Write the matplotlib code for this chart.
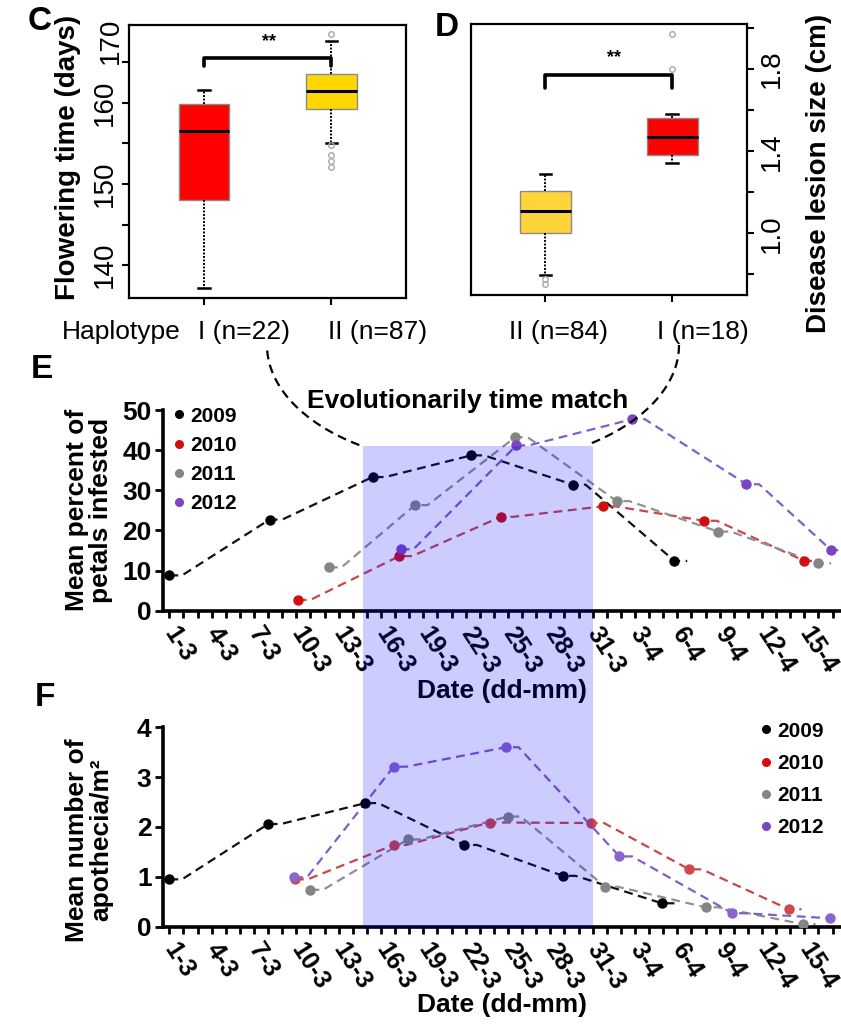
import numpy as np
import matplotlib
matplotlib.use('Agg')
import matplotlib.pyplot as plt
from matplotlib.lines import Line2D
from matplotlib.patches import Rectangle

plt.rcParams['font.family'] = ['Liberation Sans', 'DejaVu Sans']
NARROW = ['Liberation Sans Narrow', 'Liberation Sans', 'DejaVu Sans']

# ---- panel C: flowering time by haplotype
c_labels = ['I (n=22)', 'II (n=87)']
c_med = [156.5, 161.5]
c_q1 = [148.0, 159.2]
c_q3 = [159.9, 163.5]
c_whislo = [137.2, 155.1]
c_whishi = [161.6, 167.6]
c_fliers = [[], [168.5, 154.8, 153.6, 152.8, 152.1]]
c_colors = ['#ff0000', '#ffd700']

# ---- panel D: disease lesion size by haplotype
d_labels = ['II (n=84)', 'I (n=18)']
d_med = [1.11, 1.472]
d_q1 = [1.0, 1.382]
d_q3 = [1.206, 1.561]
d_whislo = [0.797, 1.341]
d_whishi = [1.29, 1.58]
d_fliers = [[0.756, 0.776], [1.802, 1.972]]
d_colors = ['#ffd43b', '#ff0000']

# ---- panels E/F: days counted from 1 March (31 = 31-3, 34 = 3-4 ...)
years = ['2009', '2010', '2011', '2012']
tick_days = [1, 4, 7, 10, 13, 16, 19, 22, 25, 28, 31, 34, 37, 40, 43, 46]
tick_labels = ['1-3', '4-3', '7-3', '10-3', '13-3', '16-3', '19-3', '22-3',
               '25-3', '28-3', '31-3', '3-4', '6-4', '9-4', '12-4', '15-4']

e_day_2009 = [1.0, 8.1, 15.4, 22.4, 29.6, 36.8]
e_val_2009 = [8.8, 22.7, 33.3, 38.7, 31.4, 12.4]
e_day_2010 = [10.1, 17.3, 24.5, 31.7, 38.9, 46.0]
e_val_2010 = [2.7, 13.6, 23.4, 26.0, 22.4, 12.4]
e_day_2011 = [12.3, 18.4, 25.5, 32.7, 39.9, 47.0]
e_val_2011 = [10.8, 26.3, 43.2, 27.3, 19.7, 11.8]
e_day_2012 = [17.4, 25.6, 33.8, 41.9, 47.9]
e_val_2012 = [15.3, 41.2, 47.7, 31.5, 15.1]

f_day_2009 = [1.0, 8.0, 14.9, 21.9, 28.9, 35.9]
f_val_2009 = [0.95, 2.06, 2.48, 1.64, 1.02, 0.47]
f_day_2010 = [9.9, 16.9, 23.7, 30.9, 37.85, 44.9]
f_val_2010 = [0.95, 1.64, 2.09, 2.08, 1.15, 0.35]
f_day_2011 = [11.0, 17.9, 25.0, 31.9, 39.0, 45.9]
f_val_2011 = [0.74, 1.75, 2.21, 0.80, 0.39, 0.05]
f_day_2012 = [9.85, 16.9, 24.85, 32.9, 40.9, 47.8]
f_val_2012 = [0.99, 3.21, 3.60, 1.41, 0.27, 0.17]

shade_start, shade_end, shade_top = 14.7, 31.0, 41

pt_colors = ['#000000', '#d01010', '#858585', '#7a45c0']
ln_colors = ['#111111', '#c84848', '#909090', '#8060c8']

W, H = 841, 1026
fig = plt.figure(figsize=(W / 100, H / 100), dpi=100)


def box(l, t, r, b):
    # pixel box (y down) -> figure rect
    return [l / W, 1 - b / H, (r - l) / W, (b - t) / H]


def boxpanel(ax, med, q1, q3, lo, hi, fl, colors):
    stats = [dict(med=med[i], q1=q1[i], q3=q3[i], whislo=lo[i], whishi=hi[i],
                  fliers=fl[i]) for i in range(2)]
    bp = ax.bxp(stats, positions=[1, 2], widths=0.4, patch_artist=True,
                capwidths=0.09, manage_ticks=False,
                boxprops=dict(edgecolor='#8a8a8a', linewidth=1),
                medianprops=dict(color='black', linewidth=2.2),
                whiskerprops=dict(color='black', linestyle=(0, (1, 0.8)), linewidth=1.4),
                capprops=dict(color='black', linewidth=1.8),
                flierprops=dict(marker='o', markerfacecolor='none',
                                markeredgecolor='#a8a8a8', markersize=4, markeredgewidth=1))
    for p, c in zip(bp['boxes'], colors):
        p.set_facecolor(c)
    ax.set_xlim(0.413, 2.587)
    ax.set_xticks([1, 2])
    ax.set_xticklabels(['', ''])
    for s in ax.spines.values():
        s.set_linewidth(1.6)
    ax.tick_params(length=5, width=1.5)


def bracket(ax, y_lo, y_hi, y_star, x_star):
    ax.plot([1, 1, 2, 2], [y_lo, y_hi, y_hi, y_lo], color='black', lw=2.6,
            solid_joinstyle='round', solid_capstyle='round')
    ax.text(x_star, y_star, '**', ha='center', va='center', fontsize=13, fontweight='bold')


# ---------------- C
axC = fig.add_axes(box(129.3, 25, 406, 298.3))
boxpanel(axC, c_med, c_q1, c_q3, c_whislo, c_whishi, c_fliers, c_colors)
axC.set_ylim(135.9, 169.6)
axC.set_yticks([140, 150, 160])
axC.set_yticks([145, 155, 165], minor=True)
axC.tick_params(which='minor', length=5, width=1.5)
axC.set_yticklabels(['140', '150', '160'], rotation=90, va='center', fontsize=20)
axC.text(-0.02, 167.6, '170', transform=axC.get_yaxis_transform(), rotation=90,
         ha='right', va='center', fontsize=20)
bracket(axC, 164.5, 165.5, 167.6, 1.51)
axC.set_ylabel('Flowering time (days)', fontsize=20, fontweight='bold')
axC.yaxis.set_label_coords(-0.175, 0.515)
xt = axC.get_xaxis_transform()
axC.text(0.352, -0.123, 'Haplotype', transform=xt, ha='center', va='center', fontsize=19)
axC.text(1.314, -0.123, c_labels[0], transform=xt, ha='center', va='center', fontsize=19)
axC.text(2.363, -0.123, c_labels[1], transform=xt, ha='center', va='center', fontsize=19)

# ---------------- D
axD = fig.add_axes(box(470.7, 24, 746.7, 295))
boxpanel(axD, d_med, d_q1, d_q3, d_whislo, d_whishi, d_fliers, d_colors)
axD.set_ylim(0.70, 2.02)
axD.yaxis.tick_right()
axD.set_yticks([1.0, 1.4, 1.8])
axD.set_yticks([0.8, 1.2, 1.6, 2.0], minor=True)
axD.tick_params(which='minor', length=5, width=1.5)
axD.set_yticklabels(['1.0', '1.4', '1.8'], rotation=90, va='center', fontsize=20)
bracket(axD, 1.707, 1.772, 1.854, 1.54)
axD.yaxis.set_label_position('right')
axD.set_ylabel('Disease lesion size (cm)', fontsize=20, fontweight='bold')
axD.yaxis.set_label_coords(1.215, 0.45)
xt = axD.get_xaxis_transform()
axD.text(1.108, -0.137, d_labels[0], transform=xt, ha='center', va='center', fontsize=19)
axD.text(2.242, -0.137, d_labels[1], transform=xt, ha='center', va='center', fontsize=19)


# ---------------- E / F
def lineplot(ax, days, vals, lc, pc, stub=0.9):
    xs, ys = [], []
    for d, v in zip(days, vals):
        xs += [d, d + stub]
        ys += [v, v]
    ax.plot(xs, ys, color=lc, lw=1.6, ls=(0, (4, 2.5)), zorder=2)
    ax.plot(days, vals, 'o', color=pc, ms=6.5, zorder=3)


def timeaxes(ax, ymax, ystep):
    ax.set_xlim(0.53, 48.53)
    ax.set_ylim(0, ymax)
    for s in ['top', 'right']:
        ax.spines[s].set_visible(False)
    for s in ['left', 'bottom']:
        ax.spines[s].set_linewidth(2.6)
    ax.set_xticks(tick_days)
    ax.set_xticks(np.arange(1, 49), minor=True)
    ax.set_xticklabels(tick_labels, fontsize=18, fontweight='bold')
    for lab in ax.get_xticklabels():
        lab.set_rotation(-57)
        lab.set_ha('left')
        lab.set_va('center')
        lab.set_rotation_mode('anchor')
    ax.tick_params(axis='x', which='both', length=5, width=2, pad=8)
    ax.set_yticks(np.arange(0, ymax + 0.01, ystep))
    ax.set_yticklabels([f'{int(v)}' for v in np.arange(0, ymax + 0.01, ystep)],
                       fontsize=19, fontweight='bold')
    ax.tick_params(axis='y', length=6, width=2, pad=2)
    ax.set_xlabel('Date (dd-mm)', fontsize=19, fontweight='bold')


def legend(ax, x, y, spacing):
    hs = [Line2D([], [], marker='o', ls='none', color=c, ms=5.5) for c in pt_colors]
    ax.legend(hs, years, loc='upper left', bbox_to_anchor=(x, y), frameon=False,
              borderpad=0, borderaxespad=0, handlelength=0.6, handletextpad=0.25,
              labelspacing=spacing, prop=dict(size=15, weight='bold'))


axE = fig.add_axes(box(162.7, 410, 840, 610.7))
lineplot(axE, e_day_2009, e_val_2009, ln_colors[0], pt_colors[0])
lineplot(axE, e_day_2010, e_val_2010, ln_colors[1], pt_colors[1])
lineplot(axE, e_day_2011, e_val_2011, ln_colors[2], pt_colors[2])
lineplot(axE, e_day_2012, e_val_2012, ln_colors[3], pt_colors[3])
timeaxes(axE, 50, 10)
axE.xaxis.set_label_coords(0.501, -0.34)
axE.set_ylabel('Mean percent of\npetals infested', fontsize=19, fontweight='bold',
               linespacing=1.0)
axE.yaxis.set_label_coords(-0.0734, 0.50)
legend(axE, 0.015, 1.017, 0.49)

axF = fig.add_axes(box(162.7, 727.3, 840, 926.7))
lineplot(axF, f_day_2009, f_val_2009, ln_colors[0], pt_colors[0])
lineplot(axF, f_day_2010, f_val_2010, ln_colors[1], '#d04848')
lineplot(axF, f_day_2011, f_val_2011, ln_colors[2], pt_colors[2])
lineplot(axF, f_day_2012, f_val_2012, ln_colors[3], '#8a66cc')
timeaxes(axF, 4, 1)
axF.xaxis.set_label_coords(0.501, -0.333)
axF.set_ylabel('Mean number of\napothecia/m²', fontsize=19, fontweight='bold',
               linespacing=1.0)
axF.yaxis.set_label_coords(-0.0734, 0.435)
legend(axF, 0.8816, 1.028, 0.63)

# ---------------- overlay: shaded window + dashed arcs
inv = fig.transFigure.inverted()
x0, y0 = inv.transform(axF.transData.transform((shade_start, 0)))
x1, y1 = inv.transform(axE.transData.transform((shade_end, shade_top)))
y0 -= 2.0 / H
fig.add_artist(Rectangle((x0, y0), x1 - x0, y1 - y0, transform=fig.transFigure,
                         facecolor=(0, 0, 1), alpha=0.2, edgecolor='none', zorder=5))

cx, cy, a, b = 473, 345, 206, 120
for t0, t1 in [(123.5, 180), (0, 56.5)]:
    t = np.radians(np.linspace(t0, t1, 80))
    px = cx + a * np.cos(t)
    py = cy + b * np.sin(t)
    fig.add_artist(Line2D(px / W, 1 - py / H, transform=fig.transFigure, color='black',
                          lw=1.6, ls=(0, (4, 2.5)), zorder=4))

fig.text(468 / W, 1 - 401 / H, 'Evolutionarily time match', ha='center', va='center',
         fontsize=19, fontweight='bold', family=NARROW)

# panel letters
for lab, x, y in [('C', 40, 22), ('D', 447, 27), ('E', 42, 369), ('F', 45, 698)]:
    fig.text(x / W, 1 - y / H, lab, ha='center', va='center', fontsize=24, fontweight='bold')

fig.savefig('out.png', dpi=100)
